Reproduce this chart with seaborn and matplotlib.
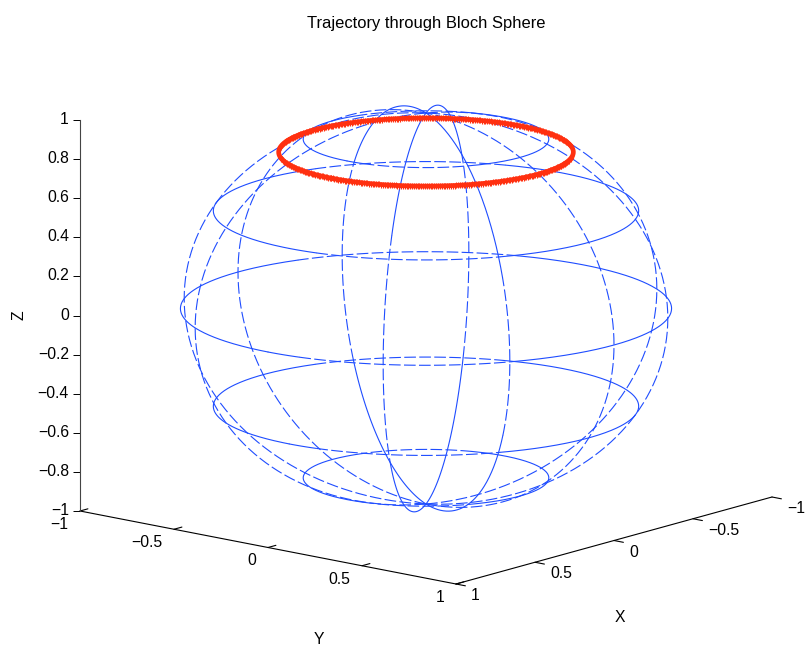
import numpy as np
import pandas as pd
import matplotlib
matplotlib.use("Agg")
import matplotlib.pyplot as plt
from matplotlib.transforms import ScaledTranslation
import seaborn as sns

# sphere wireframe
lat_levels = [-0.866, -0.5, 0.0, 0.5, 0.866]
lat_dash_windows = [(9, 60), (198, 251)]  # longitudes (deg) where the circles look dashed
meridian_lons = [30, 60, 90, 120, 150, 210, 240, 270, 300, 330]
meridian_solid_above = [0.6, 0.4, 1.1, 1.1, 1.1, 0.5, 0.5, 1.1, 1.1, 1.1]  # |z| where it turns solid
ring_z = 0.80

z_ticks = [-1, -0.8, -0.6, -0.4, -0.2, 0, 0.2, 0.4, 0.6, 0.8, 1]
z_labels = ["\u22121", "\u22120.8", "\u22120.6", "\u22120.4", "\u22120.2", "0", "0.2", "0.4", "0.6", "0.8", "1"]
xy_ticks = [-1, -0.5, 0, 0.5, 1]
xy_labels = ["\u22121", "\u22120.5", "0", "0.5", "1"]

BLUE = "#1f4dff"
RED = "#ff3010"
FONT = 11.3


# view of the box: one z unit is 195.5 px, these are px per unit of x and y
def project(x, y, z):
    u = (188 * np.asarray(y) - 158 * np.asarray(x)) / 346
    v = np.asarray(z) - (36.5 * np.asarray(y) + 43.5 * np.asarray(x) - 7) / 195.5
    return u, v


def add_runs(rows, x, y, z, dashed):
    # cut one curve into pieces of the same line style
    cuts = np.flatnonzero(np.diff(dashed.astype(int))) + 1
    start = 0
    for stop in list(cuts) + [len(x) - 1]:
        u, v = project(x[start:stop + 1], y[start:stop + 1], z[start:stop + 1])
        rows.append(pd.DataFrame({
            "u": u, "v": v,
            "run": len(rows),
            "kind": "dashed" if dashed[start] else "solid",
        }))
        start = stop


rows = []
for level in lat_levels:
    lon = np.deg2rad(np.linspace(0, 360, 721))
    deg = np.rad2deg(lon)
    r = np.sqrt(1 - level ** 2)
    dashed = np.zeros(len(lon), dtype=bool)
    for lo, hi in lat_dash_windows:
        dashed |= (deg >= lo) & (deg <= hi)
    add_runs(rows, r * np.cos(lon), r * np.sin(lon), np.full(len(lon), level), dashed)

for lon_deg, limit in zip(meridian_lons, meridian_solid_above):
    lat = np.deg2rad(np.linspace(-90, 90, 361))
    lon = np.deg2rad(lon_deg)
    z = np.sin(lat)
    add_runs(rows, np.cos(lat) * np.cos(lon), np.cos(lat) * np.sin(lon), z, np.abs(z) < limit)

wire = pd.concat(rows, ignore_index=True)

ring_lon = np.deg2rad(np.linspace(0, 360, 500))
ring_r = np.sqrt(1 - ring_z ** 2)
ring_u, ring_v = project(ring_r * np.cos(ring_lon), ring_r * np.sin(ring_lon), np.full(500, ring_z))
ring = pd.DataFrame({"u": ring_u, "v": ring_v})

# the two floor edges and their ticks
edges = []
edge_u, edge_v = project([1, 1], [-1, 1], [-1, -1])
edges.append(pd.DataFrame({"u": edge_u, "v": edge_v, "run": "y_edge"}))
edge_u, edge_v = project([1, -1], [1, 1], [-1, -1])
edges.append(pd.DataFrame({"u": edge_u, "v": edge_v, "run": "x_edge"}))
for t in xy_ticks:
    tick_u, tick_v = project([1, 0.95], [t, t], [-1, -1])
    edges.append(pd.DataFrame({"u": tick_u, "v": tick_v, "run": f"y{t}"}))
    tick_u, tick_v = project([t, t], [1, 1.05], [-1, -1])
    edges.append(pd.DataFrame({"u": tick_u, "v": tick_v, "run": f"x{t}"}))
edges = pd.concat(edges, ignore_index=True)

sns.set_theme(style="white")
plt.rcParams["font.family"] = ["Liberation Sans", "DejaVu Sans"]
plt.rcParams["font.size"] = FONT

fig = plt.figure(figsize=(8.06, 6.49), dpi=100)
ax = fig.add_axes([80 / 806, 1 - 511 / 649, (772 - 80) / 806, (511 - 120) / 649])

sns.lineplot(data=wire, x="u", y="v", units="run", estimator=None, sort=False,
             style="kind", dashes={"solid": "", "dashed": (10.5, 3)},
             color=BLUE, linewidth=0.8, legend=False, ax=ax)
sns.lineplot(data=edges, x="u", y="v", units="run", estimator=None, sort=False,
             color="black", linewidth=0.8, legend=False, ax=ax)
sns.lineplot(data=ring, x="u", y="v", estimator=None, sort=False, color=RED,
             linewidth=3.4, marker="|", markersize=4.6, markeredgewidth=0.8,
             markeredgecolor=RED, legend=False, ax=ax)
for line in ax.lines:
    line.set_clip_on(False)

ax.set_xlim(-1, 1)
ax.set_ylim(-1, 1)
ax.set_xticks([])
ax.set_yticks(z_ticks, labels=z_labels)
ax.tick_params(axis="y", left=True, length=5, width=0.7, color="black", pad=3,
               labelsize=FONT, labelcolor="black")
# labels sit a little above the tick marks in the reference
for label in ax.get_yticklabels():
    label.set_transform(label.get_transform() + ScaledTranslation(0, 2 / 100, fig.dpi_scale_trans))
for name in ["top", "right", "bottom"]:
    ax.spines[name].set_visible(False)
ax.spines["left"].set_color("#444444")
ax.spines["left"].set_linewidth(0.8)
ax.patch.set_alpha(0)

ax.set_xlabel("")
ax.set_ylabel("Z", fontsize=FONT, color="black", labelpad=8)
ax.set_title("Trajectory through Bloch Sphere", fontsize=11.85, color="black", pad=66)

# floor tick labels, offsets in points from the tick base
for t, label in zip(xy_ticks, xy_labels):
    base = project(1, t, -1)
    ax.annotate(label, xy=base, xytext=(-8.3, -9.7), textcoords="offset points",
                ha="right", va="center", color="black", annotation_clip=False)
    base = project(t, 1, -1)
    ax.annotate(label, xy=base, xytext=(10.8, -8.3), textcoords="offset points",
                ha="left", va="center", color="black", annotation_clip=False)

ax.annotate("Y", xy=project(1, 0, -1), xytext=(36.7, -66.5), textcoords="offset points",
            ha="center", va="center", color="black", annotation_clip=False)
ax.annotate("X", xy=project(0, 1, -1), xytext=(4.3, -55.5), textcoords="offset points",
            ha="center", va="center", color="black", annotation_clip=False)

fig.savefig("out.png", dpi=100)
